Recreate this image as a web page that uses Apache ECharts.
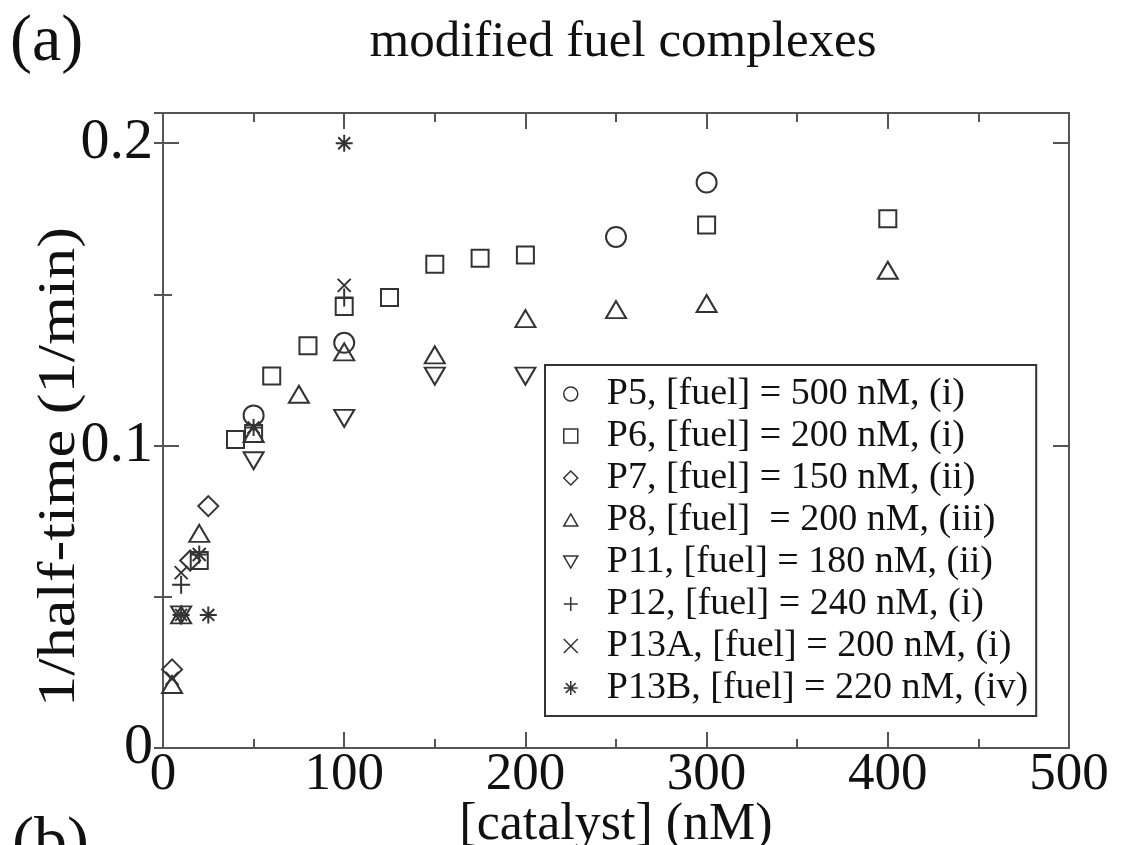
<!DOCTYPE html>
<html>
<head>
<meta charset="utf-8">
<script src="https://cdn.jsdelivr.net/npm/echarts@6/dist/echarts.min.js"></script>
<style>
html,body{margin:0;padding:0;background:#fff;}
#chart{width:1122px;height:845px;}
</style>
</head>
<body>
<div id="chart"></div>
<script>
// ---- data ----
const seriesNames = [
  'P5, [fuel] = 500 nM, (i)',
  'P6, [fuel] = 200 nM, (i)',
  'P7, [fuel] = 150 nM, (ii)',
  'P8, [fuel]  = 200 nM, (iii)',
  'P11, [fuel] = 180 nM, (ii)',
  'P12, [fuel] = 240 nM, (i)',
  'P13A, [fuel] = 200 nM, (i)',
  'P13B, [fuel] = 220 nM, (iv)'
];
const p5X = [50, 100, 250, 300];
const p5Y = [0.110, 0.134, 0.169, 0.187];
const p6X = [20, 40, 50, 60, 80, 100, 125, 150, 175, 200, 300, 400];
const p6Y = [0.062, 0.102, 0.104, 0.123, 0.133, 0.146, 0.149, 0.160, 0.162, 0.163, 0.173, 0.175];
const p7X = [5, 15, 25];
const p7Y = [0.026, 0.062, 0.080];
const p8X = [5, 10, 20, 50, 75, 100, 150, 200, 250, 300, 400];
const p8Y = [0.021, 0.044, 0.071, 0.104, 0.117, 0.131, 0.130, 0.142, 0.145, 0.147, 0.158];
const p11X = [10, 50, 100, 150, 200];
const p11Y = [0.044, 0.095, 0.109, 0.123, 0.123];
const p12X = [10, 20, 100];
const p12Y = [0.054, 0.064, 0.149];
const p13aX = [5, 10, 20, 100];
const p13aY = [0.023, 0.058, 0.064, 0.153];
const p13bX = [10, 25, 50, 100];
const p13bY = [0.044, 0.044, 0.106, 0.200];

const xTicks = [0, 100, 200, 300, 400, 500];
const yTicks = [0, 0.1, 0.2];

const titleText = 'modified fuel complexes';
const xTitle = '[catalyst] (nM)';
const yTitle = '1/half-time (1/min)';

// ---- styling ----
const FONT = 'Liberation Serif';
const INK = '#333';
const AX = '#555';
const sym = {
  circle: 'circle',
  square: 'rect',
  diamond: 'path://M5,0 L10,5 L5,10 L0,5 Z',
  up: 'path://M5,0 L10,8.66 L0,8.66 Z',
  down: 'path://M0,0 L10,0 L5,8.66 Z',
  plus: 'path://M5,0 L5,10 M0,5 L10,5',
  cross: 'path://M0,0 L10,10 M10,0 L0,10',
  star: 'path://M5,0 L5,10 M0,5 L10,5 M1.5,1.5 L8.5,8.5 M8.5,1.5 L1.5,8.5'
};
const defs = [
  [p5X, p5Y, sym.circle, 20],
  [p6X, p6Y, sym.square, 17],
  [p7X, p7Y, sym.diamond, 20],
  [p8X, p8Y, sym.up, [20, 17]],
  [p11X, p11Y, sym.down, [20, 17]],
  [p12X, p12Y, sym.plus, 18],
  [p13aX, p13aY, sym.cross, 13],
  [p13bX, p13bY, sym.star, 17]
];
const zip = (xs, ys) => xs.map((x, i) => [x, ys[i]]);
const series = defs.map((d, i) => ({
  name: seriesNames[i],
  type: 'scatter',
  xAxisIndex: 0,
  yAxisIndex: 0,
  symbol: d[2],
  symbolSize: d[3],
  data: zip(d[0], d[1]),
  itemStyle: {color: 'transparent', borderColor: INK, borderWidth: 2, opacity: 1},
  emphasis: {disabled: true},
  z: 3
}));

const baseX = {
  type: 'value', min: 0, max: 500, interval: 100,
  axisLine: {show: true, onZero: false, lineStyle: {color: AX, width: 2}},
  axisTick: {show: true, inside: true, length: 16, lineStyle: {color: AX, width: 2}},
  minorTick: {show: true, splitNumber: 2, length: 9, lineStyle: {color: AX, width: 2}},
  splitLine: {show: false}
};
const baseY = {
  type: 'value', min: 0, max: 0.21,
  axisLine: {show: true, onZero: false, lineStyle: {color: AX, width: 2}},
  splitLine: {show: false}
};

const option = {
  backgroundColor: '#fff',
  animation: false,
  grid: {left: 163, right: 53, top: 113, bottom: 97, containLabel: false, outerBoundsMode: 'none'},
  title: {
    text: titleText,
    left: 618, top: 12, textAlign: 'center',
    textStyle: {fontFamily: FONT, fontSize: 51, fontWeight: 'normal', color: '#111'}
  },
  graphic: [
    {type: 'text', left: 10, top: 10, style: {text: '(a)', font: '66px "Liberation Serif"', fill: '#111'}},
    {type: 'text', left: 12, top: 812, style: {text: '(b)', font: '66px "Liberation Serif"', fill: '#111'}},
    {type: 'text', x: 60, y: 467, rotation: Math.PI / 2, scaleX: 1.2,
      style: {text: yTitle, font: '52px "Liberation Serif"', fill: '#111', align: 'center', verticalAlign: 'middle'}}
  ],
  legend: {
    orient: 'vertical',
    left: 545, top: 365,
    data: seriesNames,
    padding: [10, 8, 9, 18],
    itemGap: 4,
    itemWidth: 14, itemHeight: 14,
    borderColor: '#333', borderWidth: 2,
    backgroundColor: '#fff',
    selectedMode: false,
    itemStyle: {color: 'transparent', borderColor: INK, borderWidth: 1.5},
    textStyle: {fontFamily: FONT, fontSize: 38, lineHeight: 36, color: '#111', padding: [0, 0, 0, 24]}
  },
  xAxis: [
    Object.assign({}, baseX, {
      position: 'bottom',
      name: xTitle, nameLocation: 'middle', nameGap: 51, nameMoveOverlap: false,
      nameTextStyle: {fontFamily: FONT, fontSize: 52, color: '#111'},
      axisLabel: {show: true, margin: 1, fontFamily: FONT, fontSize: 53, color: '#111',
        formatter: v => xTicks.includes(v) ? String(v) : ''}
    }),
    Object.assign({}, baseX, {position: 'top', axisLabel: {show: false}})
  ],
  yAxis: [
    Object.assign({}, baseY, {
      position: 'left', interval: 0.1,
      axisTick: {show: true, inside: true, length: 16, lineStyle: {color: AX, width: 2}},
      axisLabel: {show: true, margin: 10, fontFamily: FONT, fontSize: 58, color: '#111',
        showMaxLabel: false,
        formatter: v => {
          const hit = yTicks.find(t => Math.abs(t - v) < 1e-9);
          return hit === undefined ? '' : String(hit);
        }}
    }),
    Object.assign({}, baseY, {
      position: 'left', interval: 0.05,
      axisLine: {show: false},
      axisTick: {show: true, inside: true, length: 9, lineStyle: {color: AX, width: 2}},
      axisLabel: {show: false}
    }),
    Object.assign({}, baseY, {
      position: 'right', interval: 0.1,
      axisTick: {show: true, inside: true, length: 16, lineStyle: {color: AX, width: 2}},
      axisLabel: {show: false}
    }),
    Object.assign({}, baseY, {
      position: 'right', interval: 0.05,
      axisLine: {show: false},
      axisTick: {show: true, inside: true, length: 9, lineStyle: {color: AX, width: 2}},
      axisLabel: {show: false}
    })
  ],
  series: series
};

const chart = echarts.init(document.getElementById('chart'), null, {renderer: 'canvas'});
chart.setOption(option);
</script>
</body>
</html>
